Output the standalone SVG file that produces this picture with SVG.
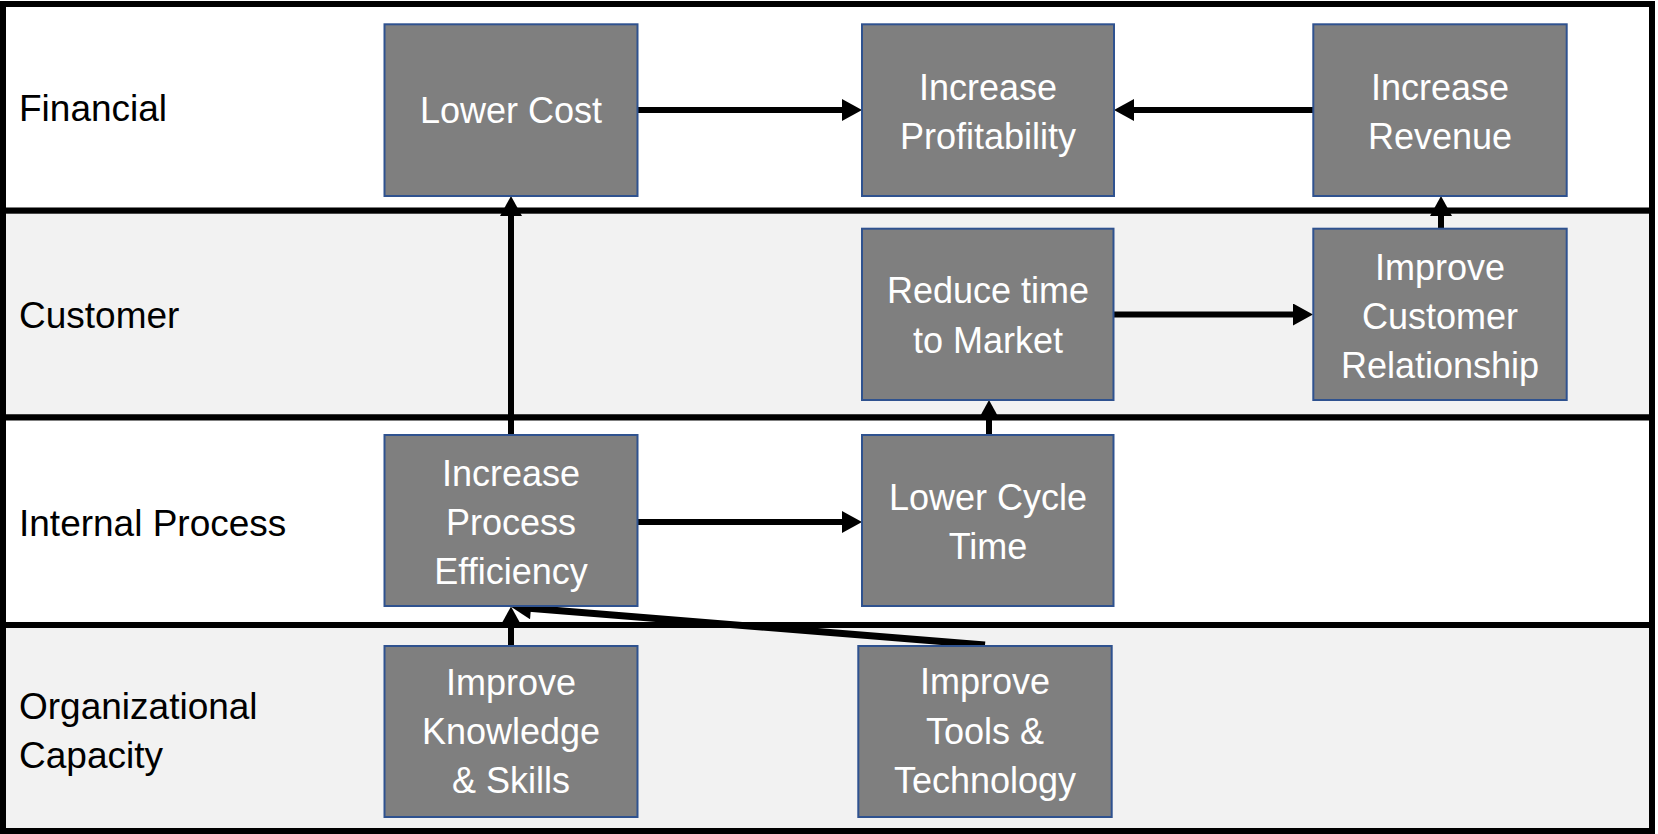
<svg xmlns="http://www.w3.org/2000/svg" width="1658" height="834" viewBox="0 0 1658 834">
<style>
.lane{stroke:#000;stroke-width:6}
.w{fill:#ffffff}
.g{fill:#f2f2f2}
.box{fill:#7f7f7f;stroke:#2f528f;stroke-width:2}
.lbl{font-family:"Liberation Sans",Arial,sans-serif;font-size:37px;fill:#000}
.bt{font-family:"Liberation Sans",Arial,sans-serif;font-size:36px;fill:#ffffff;text-anchor:middle}
.con{stroke:#000;stroke-width:6;fill:none;marker-end:url(#ah)}
</style>
<defs>
<marker id="ah" markerUnits="userSpaceOnUse" markerWidth="22" markerHeight="22" viewBox="0 0 20 22" refX="8" refY="11" orient="auto">
<path d="M0,0 L20,11 L0,22 Z" fill="#000"/>
</marker>
</defs>
<g id="lanes">
<rect class="lane w" x="3" y="4" width="1649" height="206.7"/>
<rect class="lane g" x="3" y="210.7" width="1649" height="206.8"/>
<rect class="lane w" x="3" y="417.5" width="1649" height="207.5"/>
<rect class="lane g" x="3" y="625" width="1649" height="206"/>
<text class="lbl" x="19" y="121">Financial</text>
<text class="lbl" x="19" y="328">Customer</text>
<text class="lbl" x="19" y="536">Internal Process</text>
<text class="lbl" x="19" y="719">Organizational</text>
<text class="lbl" x="19" y="768">Capacity</text>
</g>
<g id="connectors">
<line class="con" x1="637.5" y1="110" x2="850" y2="110"/>
<line class="con" x1="1313" y1="110" x2="1126" y2="110"/>
<line class="con" x1="511" y1="435" x2="511" y2="208"/>
<line class="con" x1="1113.5" y1="314.5" x2="1301" y2="314.5"/>
<line class="con" x1="1441" y1="228.5" x2="1441" y2="208"/>
<line class="con" x1="989" y1="435" x2="989" y2="412"/>
<line class="con" x1="637.5" y1="522" x2="850" y2="522"/>
<line class="con" x1="511" y1="646" x2="511" y2="618.5"/>
<line class="con" x1="985" y1="645" x2="522.96" y2="607.67" style="stroke-width:7"/>
</g>
<g id="lower-cost">
<rect class="box" x="384.5" y="24.3" width="253" height="171.7"/>
<text class="bt" x="511" y="123">Lower Cost</text>
</g>
<g id="increase-profitability">
<rect class="box" x="862" y="24.3" width="252" height="171.7"/>
<text class="bt" x="988" y="99.5">Increase</text>
<text class="bt" x="988" y="148.5">Profitability</text>
</g>
<g id="increase-revenue">
<rect class="box" x="1313.3" y="24.3" width="253.4" height="171.7"/>
<text class="bt" x="1440" y="99.5">Increase</text>
<text class="bt" x="1440" y="148.5">Revenue</text>
</g>
<g id="reduce-time-to-market">
<rect class="box" x="862" y="228.7" width="251.5" height="171.3"/>
<text class="bt" x="988" y="303.3">Reduce time</text>
<text class="bt" x="988" y="353.3">to Market</text>
</g>
<g id="improve-customer-relationship">
<rect class="box" x="1313.3" y="228.7" width="253.4" height="171.3"/>
<text class="bt" x="1440" y="279.5">Improve</text>
<text class="bt" x="1440" y="328.5">Customer</text>
<text class="bt" x="1440" y="377.5">Relationship</text>
</g>
<g id="increase-process-efficiency">
<rect class="box" x="384.5" y="435" width="253" height="171"/>
<text class="bt" x="511" y="486">Increase</text>
<text class="bt" x="511" y="535">Process</text>
<text class="bt" x="511" y="584">Efficiency</text>
</g>
<g id="lower-cycle-time">
<rect class="box" x="862" y="435" width="251.5" height="171"/>
<text class="bt" x="988" y="510">Lower Cycle</text>
<text class="bt" x="988" y="559">Time</text>
</g>
<g id="improve-knowledge-skills">
<rect class="box" x="384.5" y="646" width="253" height="171"/>
<text class="bt" x="511" y="695">Improve</text>
<text class="bt" x="511" y="744">Knowledge</text>
<text class="bt" x="511" y="793">&amp; Skills</text>
</g>
<g id="improve-tools-technology">
<rect class="box" x="858.3" y="646" width="253.4" height="171"/>
<text class="bt" x="985" y="694.3">Improve</text>
<text class="bt" x="985" y="744.3">Tools &amp;</text>
<text class="bt" x="985" y="792.7">Technology</text>
</g>
</svg>
